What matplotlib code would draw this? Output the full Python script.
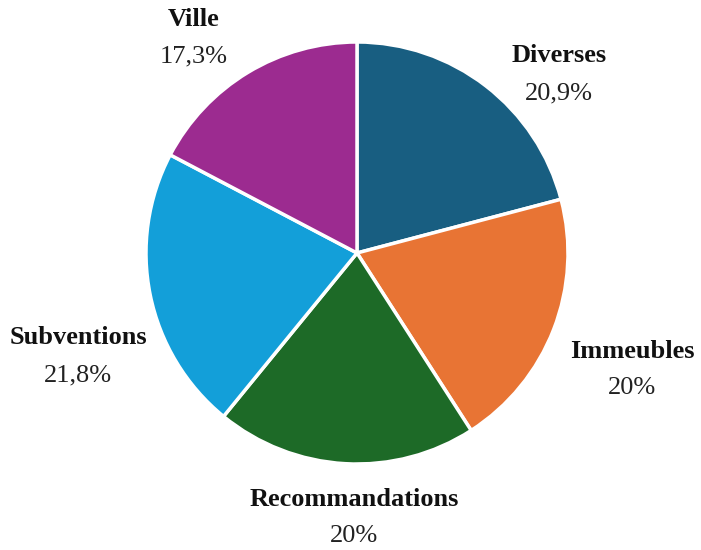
import matplotlib.pyplot as plt

# data
categories = ['Diverses', 'Immeubles', 'Recommandations', 'Subventions', 'Ville']
shares = [20.9, 20.0, 20.0, 21.8, 17.3]
pct_labels = ['20,9%', '20%', '20%', '21,8%', '17,3%']
colors = ['#185e81', '#e87434', '#1d6a27', '#139fd9', '#9c2b90']

# label anchors in pixel offsets from the pie centre (layout only)
label_pos = [(202, 178), (275, -117), (-3, -265), (-279, -104), (-163, 215)]

plt.rcParams['font.family'] = ['Liberation Serif', 'DejaVu Serif']

fig = plt.figure(figsize=(7.01, 5.5), dpi=100)
ax = fig.add_axes([0, 0, 1, 1])

# one data unit = one pixel, centre of pie at (357, 253) from top-left
cx, cy = 357, 253
radius = 211

ax.pie(shares, colors=colors, startangle=90, counterclock=False,
       radius=radius, center=(0, 0),
       wedgeprops=dict(edgecolor='white', linewidth=2.5))

for name, pct, (dx, dy) in zip(categories, pct_labels, label_pos):
    ax.text(dx, dy + 19, name, ha='center', va='center',
            fontsize=19, fontweight='bold', color='#111111')
    ax.text(dx, dy - 18, pct, ha='center', va='center',
            fontsize=19, color='#222222')

ax.set_xlim(-cx, 701 - cx)
ax.set_ylim(-(550 - cy), cy)
ax.set_aspect('equal')
ax.axis('off')

fig.savefig('out.png', dpi=100)
